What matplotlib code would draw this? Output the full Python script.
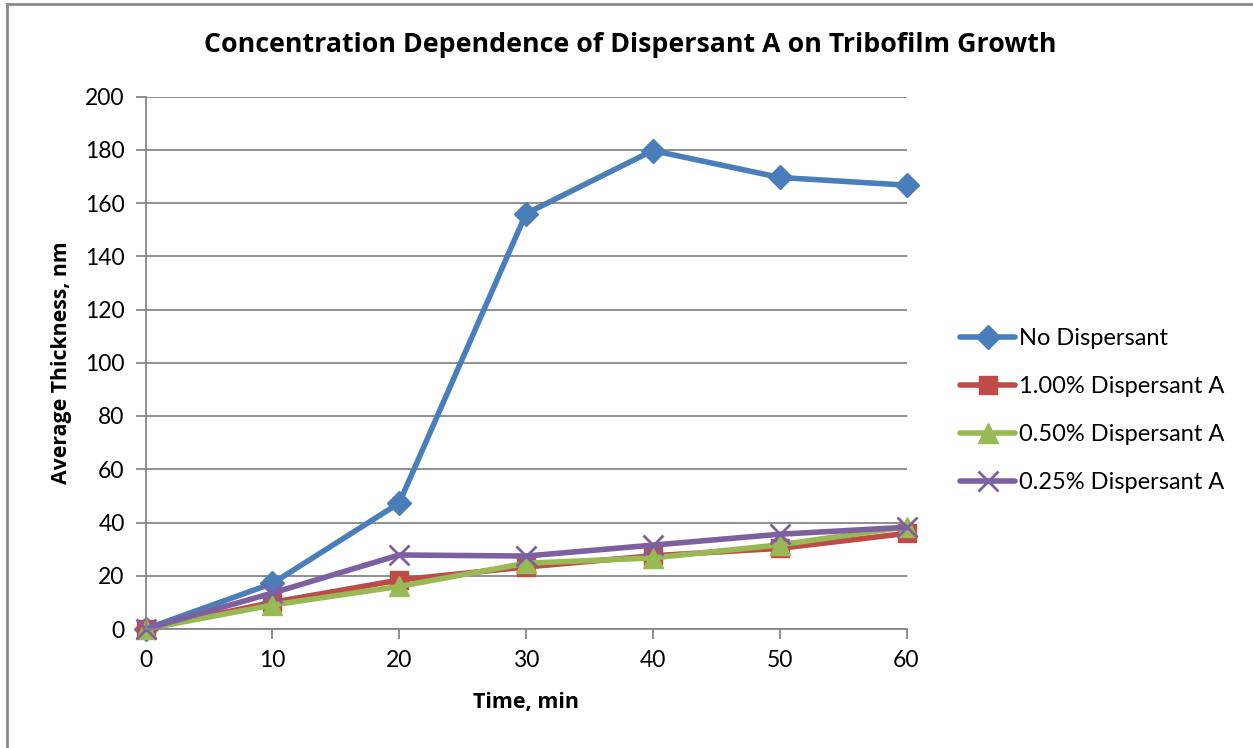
import matplotlib
matplotlib.use("Agg")
import matplotlib.pyplot as plt
from matplotlib.lines import Line2D

# Data
time_min = [0, 10, 20, 30, 40, 50, 60]
no_dispersant = [0, 17.1, 47.3, 156, 179.7, 169.6, 166.7]
disp_100 = [0, 10, 18.4, 23.3, 27.5, 30.3, 35.9]
disp_050 = [0, 9, 16.0, 24.7, 26.7, 31.6, 38.4]
disp_025 = [0, 13.5, 27.8, 27.4, 31.5, 35.6, 38.2]

series_labels = ["No Dispersant", "1.00% Dispersant A",
                 "0.50% Dispersant A", "0.25% Dispersant A"]
y_ticks = [0, 20, 40, 60, 80, 100, 120, 140, 160, 180, 200]
x_ticks = [0, 10, 20, 30, 40, 50, 60]

plt.rcParams['font.family'] = ['Lato', 'DejaVu Sans']
BOLD_FAMILY = ['Open Sans', 'DejaVu Sans']

W, H = 1253, 748
fig = plt.figure(figsize=(W / 100, H / 100), dpi=100)

def fx(px):
    return px / W

def fy(py):
    return 1 - py / H

# Plot area
x0, x1 = 145.5, 906.5
ytop, ybot = 96.5, 629
ax = fig.add_axes([fx(x0), fy(ybot), fx(x1) - fx(x0), fy(ytop) - fy(ybot)])
ax.set_xlim(0, 60)
ax.set_ylim(0, 200)

grid_col = "#868686"
ax.set_yticks(y_ticks)
ax.set_xticks(x_ticks)
ax.yaxis.grid(True, color=grid_col, linewidth=1.3)
ax.set_axisbelow(True)
for side in ["top", "right"]:
    ax.spines[side].set_visible(False)
for side in ["left", "bottom"]:
    ax.spines[side].set_color(grid_col)
    ax.spines[side].set_linewidth(1.3)
ax.tick_params(axis="both", direction="out", length=7, width=1.3,
               color=grid_col, labelsize=16.5, labelcolor="black")
ax.tick_params(axis="y", pad=8)
ax.tick_params(axis="x", pad=8)

styles = [
    (no_dispersant, "#4A7EBB", "D", 12),
    (disp_100, "#BE4B48", "s", 13),
    (disp_050, "#98B954", "^", 14),
    (disp_025, "#7D60A0", "x", 14),
]
for (vals, col, mk, ms), lab in zip(styles, series_labels):
    kw = dict(color=col, linewidth=4.0, marker=mk, markersize=ms,
              markerfacecolor=col, markeredgecolor=col, label=lab,
              clip_on=False, solid_joinstyle="round", solid_capstyle="round")
    if mk == "x":
        kw["markeredgewidth"] = 2.0
    ax.plot(time_min, vals, **kw)

ax.set_xlabel("Time, min", fontsize=15.5, fontweight="bold", family=BOLD_FAMILY,
              labelpad=15)
ax.set_ylabel("Average Thickness, nm", fontsize=15.3, fontweight="bold",
              family=BOLD_FAMILY, labelpad=9)

fig.text(fx(630), fy(45), "Concentration Dependence of Dispersant A on Tribofilm Growth",
         ha="center", va="center", fontsize=19.3, fontweight="bold",
         family=BOLD_FAMILY)

# Legend
handles, labels = ax.get_legend_handles_labels()
leg = fig.legend(handles, labels, loc="center left",
                 bbox_to_anchor=(fx(951), fy(410.5)), frameon=False,
                 fontsize=17, handlelength=2.3, handletextpad=0.2,
                 labelspacing=1.15, borderaxespad=0)

# Chart border
fig.add_artist(Line2D([fx(7), fx(7)], [fy(4), 0], color="#8a8a8a", linewidth=2.0))
fig.add_artist(Line2D([fx(7), 1], [fy(4), fy(4)], color="#8a8a8a", linewidth=2.0))

fig.savefig("out.png", dpi=100)
